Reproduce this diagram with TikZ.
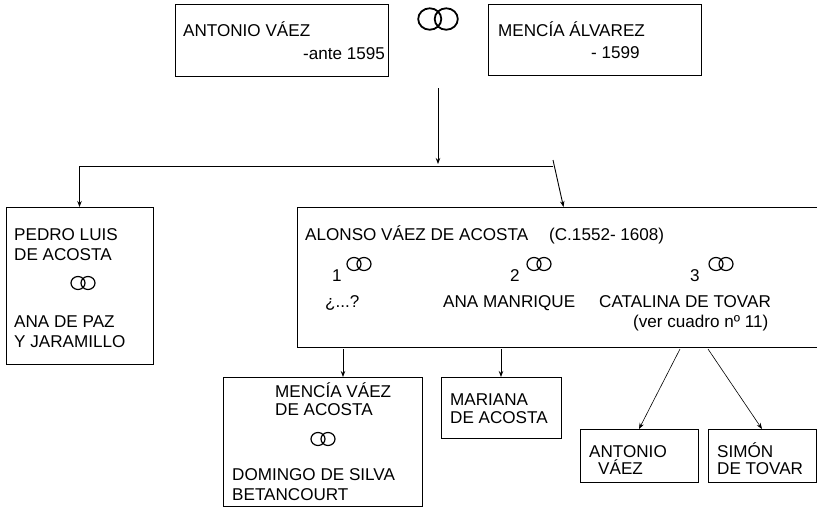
\documentclass[tikz,border=0pt]{standalone}
\usepackage{fontspec}
\setmainfont{Liberation Sans}
\usetikzlibrary{arrows.meta}

\tikzset{
    anillos/.pic={
        \draw (-5pt,0) ellipse [x radius=7pt, y radius=6.5pt];
        \draw (5pt,0) ellipse [x radius=7pt, y radius=6.5pt];
    }
}

\begin{document}
\begin{tikzpicture}[x=1pt,y=-1pt]
    %Everything is placed in pixel units of the page, with y running downwards.
    \useasboundingbox (0,0) rectangle (817,507);

    \begin{scope}[every node/.style={draw,rectangle,line width=0.9pt,inner sep=0,outer sep=0}]
        \node [minimum width=213, minimum height=72] (antonio) at (281.5,40) {};
        \node [minimum width=213, minimum height=71] (mencia) at (594.5,39.5) {};
        \node [minimum width=147, minimum height=157] (pedro) at (79.5,285.5) {};
        \node [minimum width=533, minimum height=140] (alonso) at (563.5,277) {};
        \node [minimum width=199, minimum height=129] (menciav) at (322.5,441.5) {};
        \node [minimum width=120, minimum height=61] (mariana) at (501,407.5) {};
        \node [minimum width=118, minimum height=53] (antoniov) at (639,455.5) {};
        \node [minimum width=108, minimum height=53] (simon) at (762,455.5) {};
    \end{scope}

    \begin{scope}[every node/.style={anchor=base west,inner sep=0,font=\fontsize{17.1}{20}\selectfont}]
        \node (an) at (183,36) {ANTONIO VÁEZ};
        \node (ad) at (303,59) {-ante 1595};
        \node (mn) at (498,36) {MENCÍA ÁLVAREZ};
        \node (md) at (591,58) {- 1599};

        \node (p1) at (14,240) {PEDRO LUIS};
        \node (p2) at (14,260) {DE ACOSTA};
        \node (p3) at (14,327) {ANA DE PAZ};
        \node (p4) at (14,347) {Y JARAMILLO};

        \node (al) at (305,240) {ALONSO VÁEZ DE ACOSTA};
        \node (af) at (549,240) {(C.1552- 1608)};
        \node (n1) at (332,281) {1};
        \node (n2) at (510,281) {2};
        \node (n3) at (690,281) {3};
        \node (e1) at (325,307) {¿...?};
        \node (e2) at (443,307) {ANA MANRIQUE};
        \node (e3) at (599,307) {CATALINA DE TOVAR};
        \node (e4) at (633,327) {(ver cuadro nº 11)};

        \node (v1) at (275,397) {MENCÍA VÁEZ};
        \node (v2) at (275,415) {DE ACOSTA};
        \node (v3) at (232,480) {DOMINGO DE SILVA};
        \node (v4) at (232,500) {BETANCOURT};

        \node (r1) at (450,405) {MARIANA};
        \node (r2) at (450,423) {DE ACOSTA};

        \node (t1) at (589,457) {ANTONIO};
        \node (t2) at (598,474) {VÁEZ};
        \node (s1) at (717,457) {SIMÓN};
        \node (s2) at (717,474) {DE TOVAR};
    \end{scope}

    \begin{scope}[line width=1.8pt]
        \pic [scale=1.65] at (438,19) {anillos};
    \end{scope}
    \begin{scope}[line width=1.2pt]
        \pic at (83,283) {anillos};
        \pic at (359,264) {anillos};
        \pic at (539,264) {anillos};
        \pic at (721,264) {anillos};
        \pic at (323,439) {anillos};
    \end{scope}

    \coordinate (m0) at (438,88);
    \coordinate (m1) at (438,164);
    \coordinate (h0) at (79.5,166);
    \coordinate (h1) at (553,166);
    \coordinate (k) at (553,160);
    \coordinate (c1) at (343,349);
    \coordinate (c2) at (501,349);
    \coordinate (c3) at (680,349);
    \coordinate (c4) at (708,349);

    \begin{scope}[>={Stealth[length=6pt,width=4.5pt]},
                every edge/.style={draw=black, line width=0.9pt}]
        \path [->] (m0) edge (m1);
        \path (h0) edge (h1);
        \path [->] (h0) edge (pedro.north);
        \path [->] (k) edge (alonso.north);
        \path [->] (c1) edge (c1 |- menciav.north);
        \path [->] (c2) edge (mariana.north);
    \end{scope}

    \begin{scope}[>={Stealth[length=6pt,width=4.5pt]},
                every edge/.style={draw=black, line width=0.6pt}]
        \path [->] (c3) edge (antoniov.north);
        \path [->] (c4) edge (simon.north);
    \end{scope}

\end{tikzpicture}
\end{document}
